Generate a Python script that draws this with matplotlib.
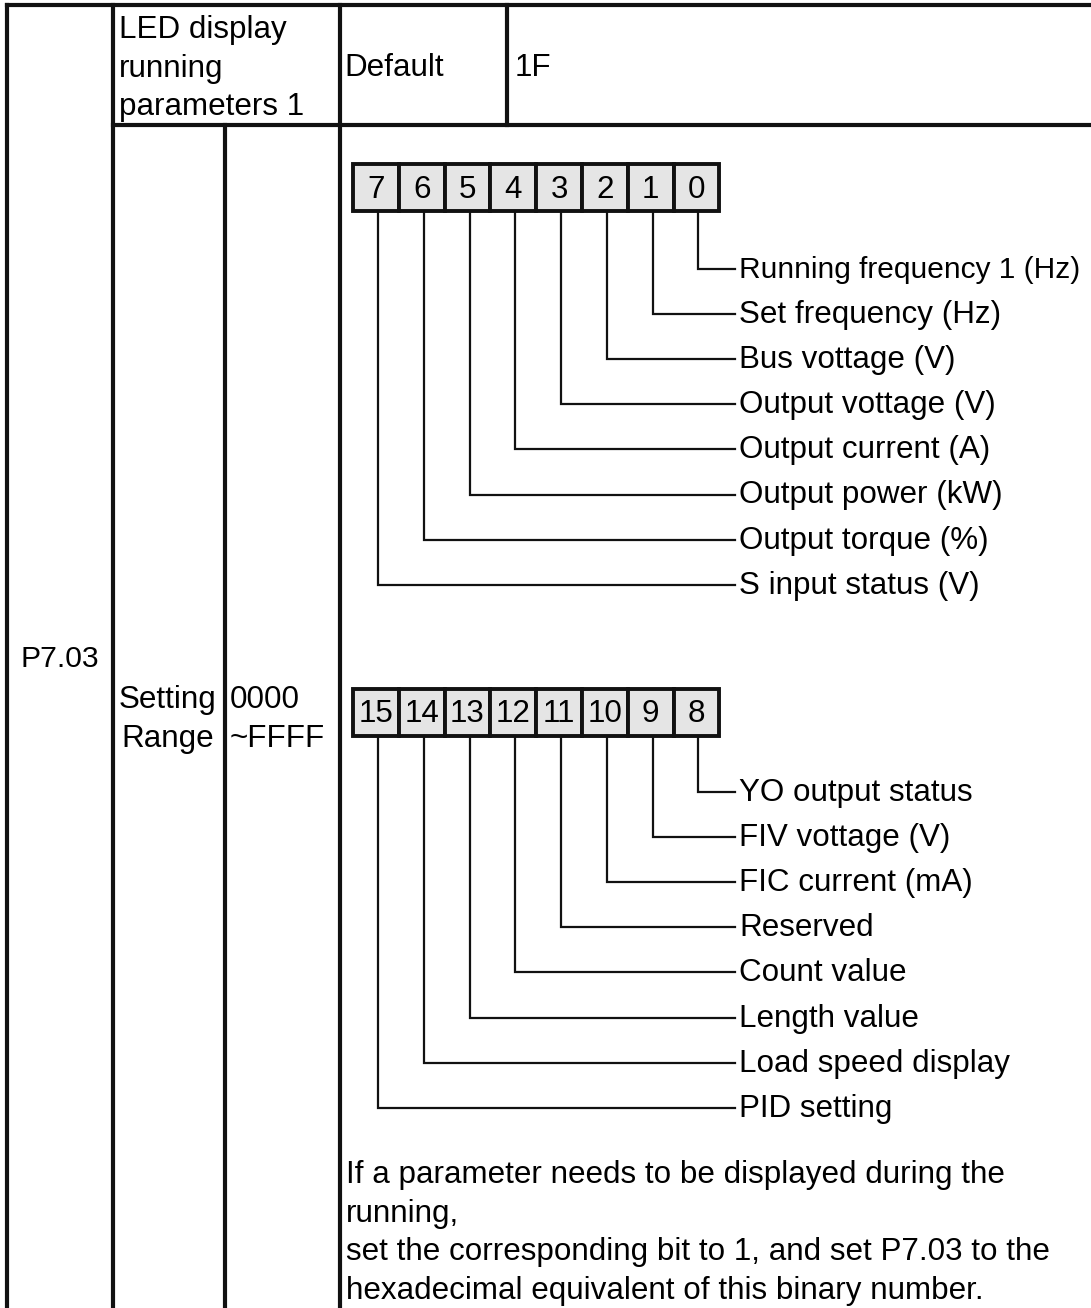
import matplotlib
matplotlib.use("Agg")
import matplotlib.pyplot as plt
from matplotlib.patches import Rectangle

plt.rcParams['font.family'] = ['Liberation Sans', 'DejaVu Sans']

# ---- data ----
param_code = "P7.03"
param_name = ["LED display", "running", "parameters 1"]
default_label = "Default"
default_value = "1F"
range_label = ["Setting", "Range"]
range_value = ["0000", "~FFFF"]
bits_low = ["7", "6", "5", "4", "3", "2", "1", "0"]
desc_low = ["Running frequency 1 (Hz)", "Set frequency (Hz)", "Bus vottage (V)",
            "Output vottage (V)", "Output current (A)", "Output power (kW)",
            "Output torque (%)", "S input status (V)"]
bits_high = ["15", "14", "13", "12", "11", "10", "9", "8"]
desc_high = ["YO output status", "FIV vottage (V)", "FIC current (mA)", "Reserved",
             "Count value", "Length value", "Load speed display", "PID setting"]
note_lines = ["If a parameter needs to be displayed during the",
              "running,",
              "set the corresponding bit to 1, and set P7.03 to the",
              "hexadecimal equivalent of this binary number."]

W, H = 1091, 1308
fig = plt.figure(figsize=(W / 100, H / 100), dpi=100)
ax = fig.add_axes([0, 0, 1, 1])
ax.set_xlim(0, W)
ax.set_ylim(H, 0)
ax.axis('off')

lw_t = 3.0
k = '#111111'
fs = 22.6

# table lines
ax.plot([7, W], [5, 5], color=k, lw=lw_t)
ax.plot([7, 7], [5, H], color=k, lw=lw_t)
ax.plot([113, 113], [5, H], color=k, lw=lw_t)
ax.plot([340, 340], [5, H], color=k, lw=lw_t)
ax.plot([507, 507], [5, 125], color=k, lw=lw_t)
ax.plot([113, W], [125, 125], color=k, lw=lw_t)
ax.plot([225, 225], [125, H], color=k, lw=lw_t)

# header texts
for i, t in enumerate(param_name):
    ax.text(119, 30 + i * 38.5, t, fontsize=fs, va='center', ha='left')
ax.text(344, 68, default_label, fontsize=fs, va='center', ha='left')
ax.text(515, 68, default_value, fontsize=fs, va='center', ha='left')
ax.text(60, 659, param_code, fontsize=fs * 0.96, va='center', ha='center')
ax.text(168, 700, range_label[0], fontsize=fs, va='center', ha='center')
ax.text(168, 739, range_label[1], fontsize=fs, va='center', ha='center')
ax.text(230, 700, range_value[0], fontsize=fs, va='center', ha='left')
ax.text(230, 739, range_value[1], fontsize=fs, va='center', ha='left')


def bit_group(bits, descs, top, label_y0):
    x0, bw, bh = 353, 45.8, 47
    for i, b in enumerate(bits):
        ax.add_patch(Rectangle((x0 + i * bw, top), bw, bh, facecolor='#e5e5e5',
                               edgecolor=k, lw=2.8, zorder=3))
        ax.text(x0 + i * bw + bw / 2, top + bh / 2 + 2, b, fontsize=fs,
                ha='center', va='center', zorder=4)
    n = len(bits)
    for j, d in enumerate(descs):
        i = n - 1 - j
        xc = x0 + i * bw + bw / 2 + 2
        y = label_y0 + j * 45.1
        ax.plot([xc, xc, 735], [top + bh, y, y], color=k, lw=1.6,
                solid_joinstyle='miter', zorder=2)
        size = fs if len(d) < 22 else fs * 0.95
        ax.text(739, y + 1, d, fontsize=size, va='center', ha='left')


bit_group(bits_low, desc_low, 164, 269)
bit_group(bits_high, desc_high, 689, 792)

for i, t in enumerate(note_lines):
    ax.text(346, 1175 + i * 38.7, t, fontsize=fs, va='center', ha='left')

fig.savefig("out.png", dpi=100)
